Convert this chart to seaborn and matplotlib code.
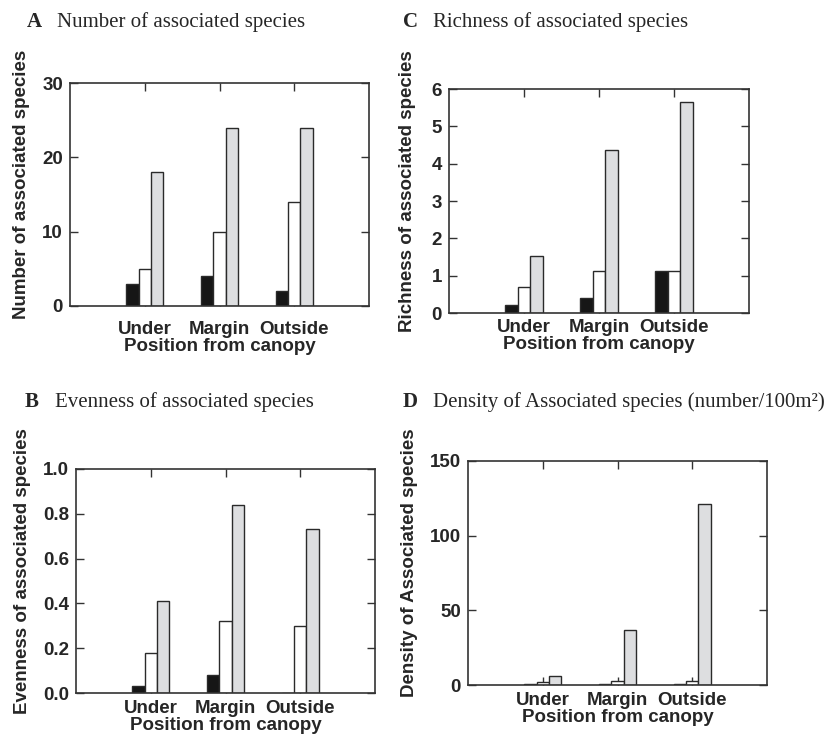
import matplotlib
matplotlib.use("Agg")
import matplotlib.pyplot as plt
import seaborn as sns
import pandas as pd

positions = ["Under", "Margin", "Outside"]
groups = ["g1", "g2", "g3"]

number_black = [3, 4, 2]
number_white = [5, 10, 14]
number_gray = [18, 24, 24]

richness_black = [0.21, 0.39, 1.12]
richness_white = [0.70, 1.12, 1.12]
richness_gray = [1.53, 4.36, 5.66]

evenness_black = [0.03, 0.08, 0.0]
evenness_white = [0.18, 0.32, 0.30]
evenness_gray = [0.41, 0.84, 0.73]

density_black = [0.5, 0.6, 0.6]
density_white = [2.0, 2.5, 2.5]
density_gray = [5.8, 37.0, 121.0]

bar_colors = ["#161616", "#ffffff", "#dddee0"]

sns.set_theme(style="white")
plt.rcParams["font.family"] = ["Liberation Sans", "DejaVu Sans"]

fig = plt.figure(figsize=(8.33, 7.35), dpi=100)
W, H = 833, 735
FS = 13.5


def make_ax(l, r, t, b):
    return fig.add_axes([l / W, (H - b) / H, (r - l) / W, (b - t) / H])


def panel(ax, black, white, gray, ylim, yticks, yticklabels, ylabel,
          letter, title, tx, ty, ylx, xpad):
    df = pd.DataFrame({
        "position": positions * 3,
        "group": [groups[0]] * 3 + [groups[1]] * 3 + [groups[2]] * 3,
        "value": list(black) + list(white) + list(gray),
    })
    sns.barplot(data=df, x="position", y="value", hue="group",
                order=positions, hue_order=groups, palette=bar_colors,
                width=0.5, dodge=True, gap=0, errorbar=None,
                edgecolor="#2a2a2a", linewidth=1.0, saturation=1,
                legend=False, ax=ax, zorder=1)
    ax.set_xlim(-1, 3)
    ax.set_ylim(*ylim)
    ax.set_yticks(yticks)
    ax.set_yticklabels(yticklabels, fontsize=FS, fontweight="bold")
    ax.set_xticks([0, 1, 2])
    ax.set_xticklabels(positions, fontsize=FS, fontweight="bold")
    ax.tick_params(axis="both", direction="in", length=6, width=1.0,
                   color="#333333", top=True, right=True, bottom=True,
                   left=True, pad=5)
    ax.tick_params(axis="x", pad=xpad)
    for s in ax.spines.values():
        s.set_visible(True)
        s.set_color("#333333")
        s.set_linewidth(1.2)
    ax.set_xlabel("Position from canopy", fontsize=FS, fontweight="bold",
                  labelpad=0)
    ax.set_ylabel("")
    pos = ax.get_position()
    fig.text(ylx / W, (pos.y0 + pos.y1) / 2 + 0.014, ylabel, rotation=90,
             ha="center", va="center", fontsize=FS, fontweight="bold")
    fig.text(tx / W, 1 - ty / H, letter, family=["Liberation Serif"],
             fontsize=15, fontweight="bold", ha="left", va="center")
    fig.text((tx + 30) / W, 1 - ty / H, title, family=["Liberation Serif"],
             fontsize=15, ha="left", va="center")


axA = make_ax(70, 369, 83, 306)
panel(axA, number_black, number_white, number_gray, (0, 30), [0, 10, 20, 30],
      ["0", "10", "20", "30"], "Number of associated species",
      "A", "Number of associated species", 27, 22, 22, 11)

axC = make_ax(449, 749, 89, 313)
panel(axC, richness_black, richness_white, richness_gray, (0, 6),
      [0, 1, 2, 3, 4, 5, 6], ["0", "1", "2", "3", "4", "5", "6"],
      "Richness of associated species",
      "C", "Richness of associated species", 403, 22, 408, 4)

axB = make_ax(76, 375, 469, 693)
panel(axB, evenness_black, evenness_white, evenness_gray, (0, 1),
      [0, 0.2, 0.4, 0.6, 0.8, 1.0], ["0.0", "0.2", "0.4", "0.6", "0.8", "1.0"],
      "Evenness of associated species",
      "B", "Evenness of associated species", 25, 402, 23, 5)

axD = make_ax(468, 767, 461, 685)
panel(axD, density_black, density_white, density_gray, (0, 150),
      [0, 50, 100, 150], ["0", "50", "100", "150"],
      "Density of Associated species",
      "D", "Density of Associated species (number/100m²)", 403, 402, 410, 5)

fig.savefig("out.png", dpi=100, facecolor="white")
